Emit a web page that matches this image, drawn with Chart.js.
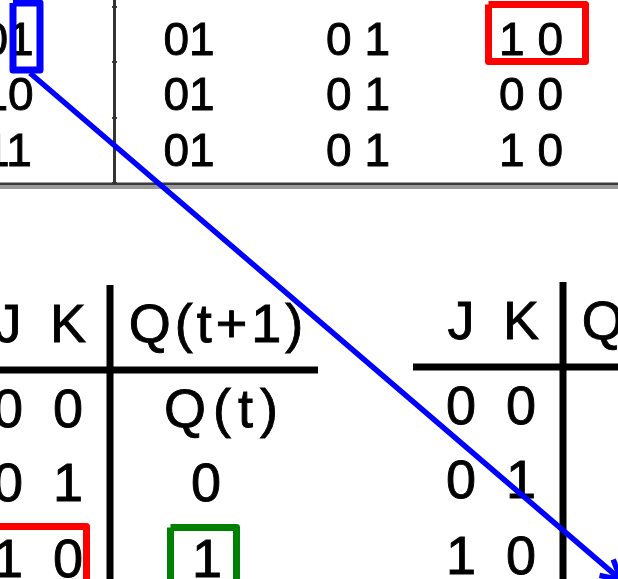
<!DOCTYPE html>
<html lang="en">
<head>
    <meta charset="UTF-8">
    <title>JK truth table fragment</title>
    <script src="https://cdn.jsdelivr.net/npm/chart.js"></script>
    <style>
        html, body {
            margin: 0;
            padding: 0;
            background: #fff;
            overflow: hidden;
        }
        #chartContainer {
            width: 618px;
            height: 579px;
            position: relative;
        }
    </style>
</head>
<body>

<div id="chartContainer">
    <canvas id="myChart"></canvas>
</div>

<script>
    // ---- top table (cropped), cell texts ----
    const topColX = [8, 189, 358, 531];
    const topRowY = [55, 110, 166];   // baselines
    const topCells = [
        ['01', '01', '0 1', '1 0'],
        ['10', '01', '0 1', '0 0'],
        ['11', '01', '0 1', '1 0']
    ];
    const topTickY = [7, 62, 118, 183];

    // ---- JK flip-flop characteristic table (shown twice) ----
    const jkHead = ['J', 'K'];
    const qHead = 'Q(t+1)';
    const jkRows = [['0', '0'], ['0', '1'], ['1', '0']];
    const qRows = ['Q(t)', '0', '1'];
    const jkColX = [8, 68];
    const qTextX = [216, 221, 206, 207];   // header, row1..row3
    const bottomRowY = [342, 427, 501, 577]; // baselines
    const tableShift = [[0, 0], [453, -3]];

    // ---- highlight boxes & arrow ----
    const blueBox = [13, 3, 40, 70];          // x1, y1, x2, y2
    const redBoxTop = [488.5, 4.5, 585.5, 61.5];
    const redBoxBottom = [-10, 526.5, 86.5, 600];
    const greenBox = [170.5, 527.5, 236.5, 600];
    const arrowStart = [30, 73];
    const arrowTip = [621, 580];

    const FONT = '"Liberation Sans", Arial, sans-serif';

    function rect(b) {
        return [
            {x: b[0], y: b[1]}, {x: b[2], y: b[1]},
            {x: b[2], y: b[3]}, {x: b[0], y: b[3]},
            {x: b[0], y: b[1]}
        ];
    }

    function seg(x1, y1, x2, y2, color, width, order) {
        return {
            data: [{x: x1, y: y1}, {x: x2, y: y2}],
            showLine: true,
            pointRadius: 0,
            borderColor: color,
            borderWidth: width,
            borderCapStyle: 'butt',
            order: order
        };
    }

    let datasets = [];

    // top table rules
    datasets.push(seg(114.5, 0, 114.5, 184, '#333', 3, 5));
    datasets.push(seg(0, 184, 618, 184, '#3a3a3a', 3, 5));
    datasets.push(seg(0, 187.5, 618, 187.5, '#9a9a9a', 3, 6));
    topTickY.forEach(ty => datasets.push(seg(112, ty, 117, ty, '#444', 2, 5)));

    // bottom tables rules
    tableShift.forEach(([dx, dy]) => {
        datasets.push(seg(110 + dx, 285 + dy, 110 + dx, 590, '#000', 7, 4));
        datasets.push(seg(-40 + dx, 370 + dy, 318 + dx, 370 + dy, '#000', 7, 4));
    });

    // boxes
    [[blueBox, '#0000ff'], [redBoxTop, '#ff0000'], [redBoxBottom, '#ff0000'], [greenBox, '#008000']].forEach(([b, c]) => {
        datasets.push({
            data: rect(b),
            showLine: true,
            pointRadius: 0,
            borderColor: c,
            borderWidth: 7,
            borderJoinStyle: 'round',
            order: 2
        });
    });

    // arrow with head
    let ang = Math.atan2(arrowTip[1] - arrowStart[1], arrowTip[0] - arrowStart[0]);
    let headLen = 22, headAng = 0.5;
    datasets.push(seg(arrowStart[0], arrowStart[1], arrowTip[0], arrowTip[1], '#0000ff', 5.5, 0));
    datasets.push({
        data: [
            {x: arrowTip[0] - headLen * Math.cos(ang - headAng), y: arrowTip[1] - headLen * Math.sin(ang - headAng)},
            {x: arrowTip[0], y: arrowTip[1]},
            {x: arrowTip[0] - headLen * Math.cos(ang + headAng), y: arrowTip[1] - headLen * Math.sin(ang + headAng)}
        ],
        showLine: true,
        pointRadius: 0,
        borderColor: '#0000ff',
        borderWidth: 5.5,
        borderJoinStyle: 'miter',
        order: 0
    });

    // labels built from the arrays above
    let labels = [];
    topCells.forEach((row, r) => row.forEach((t, c) => {
        labels.push({text: t, x: topColX[c], y: topRowY[r], size: 46, ls: 0});
    }));
    tableShift.forEach(([dx, dy]) => {
        jkHead.forEach((t, c) => labels.push({text: t, x: jkColX[c] + dx, y: bottomRowY[0] + dy, size: 54, ls: 0}));
        labels.push({text: qHead, x: qTextX[0] + dx, y: bottomRowY[0] + dy, size: 54, ls: 4});
        jkRows.forEach((row, r) => {
            row.forEach((t, c) => labels.push({text: t, x: jkColX[c] + dx, y: bottomRowY[r + 1] + dy, size: 54, ls: 0}));
            labels.push({text: qRows[r], x: qTextX[r + 1] + dx, y: bottomRowY[r + 1] + dy, size: 54, ls: r === 0 ? 7 : 0});
        });
    });

    const textPlugin = {
        id: 'cellText',
        beforeDatasetsDraw(chart) {
            const {ctx, scales: {x, y}} = chart;
            ctx.save();
            ctx.fillStyle = '#000';
            ctx.strokeStyle = '#000';
            ctx.lineWidth = 0.9;
            ctx.textAlign = 'center';
            ctx.textBaseline = 'alphabetic';
            labels.forEach(l => {
                ctx.font = l.size + 'px ' + FONT;
                ctx.letterSpacing = l.ls + 'px';
                let px = x.getPixelForValue(l.x) + l.ls / 2;
                let py = y.getPixelForValue(l.y);
                ctx.fillText(l.text, px, py);
                ctx.strokeText(l.text, px, py);   // slightly heavier strokes like the scan
            });
            ctx.restore();
        }
    };

    new Chart(document.getElementById('myChart'), {
        type: 'scatter',
        data: {datasets: datasets},
        options: {
            responsive: true,
            maintainAspectRatio: false,
            animation: false,
            events: [],
            layout: {padding: 0},
            plugins: {
                legend: {display: false},
                tooltip: {enabled: false}
            },
            scales: {
                x: {type: 'linear', min: 0, max: 618, display: false},
                y: {type: 'linear', min: 0, max: 579, reverse: true, display: false}
            }
        },
        plugins: [textPlugin]
    });
</script>

</body>
</html>
